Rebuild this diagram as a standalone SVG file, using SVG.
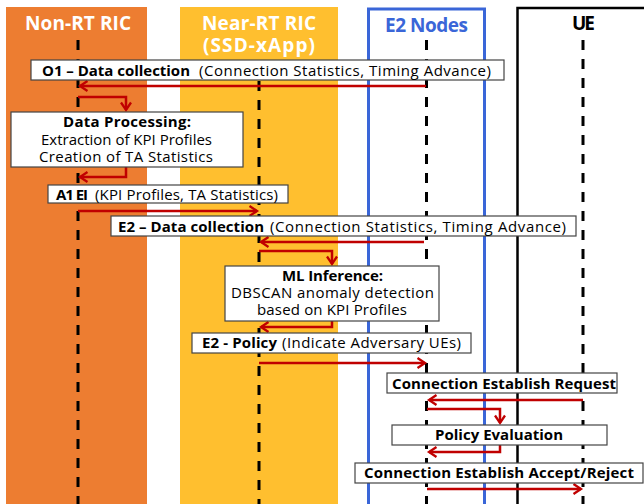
<svg xmlns="http://www.w3.org/2000/svg" width="644" height="504" viewBox="0 0 644 504">
  <style>
    text { font-family: "Open Sans", "Liberation Sans", sans-serif; }
    .hdr { font-size: 19px; font-weight: 700; }
    .lbl { font-size: 15px; fill: #000; }
    .b { font-weight: 700; }
    .box { fill: #fff; stroke: #444; stroke-width: 1.2; }
    .life { stroke: #000; stroke-width: 3; stroke-dasharray: 10 9; fill: none; }
    .msg { stroke: #C00000; stroke-width: 2.5; fill: none; marker-end: url(#arr); }
  </style>
  <defs>
    <!-- open chevron arrowhead used by every message line -->
    <marker id="arr" markerWidth="12" markerHeight="12" refX="9" refY="6" orient="auto" markerUnits="userSpaceOnUse" viewBox="0 0 12 12">
      <path d="M1.5,1 L9,6 L1.5,11" fill="none" stroke="#C00000" stroke-width="2.3"/>
    </marker>
  </defs>

  <!-- swimlanes -->
  <g id="lane-nonrt">
    <rect x="6" y="7" width="141" height="497" fill="#ED7D31"/>
    <text class="hdr" x="25" y="30" fill="#fff" textLength="106">Non-RT RIC</text>
  </g>
  <g id="lane-nearrt">
    <rect x="180" y="7" width="158" height="497" fill="#FFBF2F"/>
    <text class="hdr" x="202" y="30" fill="#fff" textLength="114">Near-RT RIC</text>
    <text class="hdr" x="203" y="52" fill="#fff" textLength="112">(SSD-xApp)</text>
  </g>
  <g id="lane-e2">
    <rect x="368.5" y="9" width="116" height="500" fill="none" stroke="#3A66D8" stroke-width="3"/>
    <text class="hdr" x="385" y="32" fill="#3A66D8" textLength="83">E2 Nodes</text>
  </g>
  <g id="lane-ue">
    <rect x="517.5" y="8" width="140" height="500" fill="none" stroke="#000" stroke-width="2.5"/>
    <text class="hdr" x="572" y="30" fill="#000" textLength="23">UE</text>
  </g>

  <!-- lifelines -->
  <g id="lifelines">
    <line class="life" x1="78" y1="40" x2="78" y2="504"/>
    <line class="life" x1="259" y1="62" x2="259" y2="504"/>
    <line class="life" x1="426.5" y1="40" x2="426.5" y2="504"/>
    <line class="life" x1="583" y1="40" x2="583" y2="504"/>
  </g>

  <!-- connectors -->
  <g id="connectors">
    <path class="msg" d="M426,86 H80"/>
    <path class="msg" d="M78,97 H126 V110"/>
    <path class="msg" d="M126,167 V177 H80"/>
    <path class="msg" d="M78,211 H257"/>
    <path class="msg" d="M424,242 H261"/>
    <path class="msg" d="M259,251 H332 V264"/>
    <path class="msg" d="M332,321 V327 H261"/>
    <path class="msg" d="M259,363 H425"/>
    <path class="msg" d="M583,400 H429"/>
    <path class="msg" d="M427,409 H500 V423"/>
    <path class="msg" d="M500,445 V452 H429"/>
    <path class="msg" d="M427,489 H581"/>
  </g>

  <!-- message labels and activity boxes -->
  <g id="o1-data">
    <rect class="box" x="31" y="60" width="473" height="20"/>
    <text class="lbl" y="76"><tspan class="b" x="42" textLength="148">O1 – Data collection</tspan><tspan x="199" textLength="292">(Connection Statistics, Timing Advance)</tspan></text>
  </g>
  <g id="data-processing">
    <rect class="box" x="11" y="112" width="232" height="55"/>
    <text class="lbl b" x="63" y="127" textLength="128">Data Processing:</text>
    <text class="lbl" x="41" y="145" textLength="171">Extraction of KPI Profiles</text>
    <text class="lbl" x="39" y="162" textLength="174">Creation of TA Statistics</text>
  </g>
  <g id="a1-ei">
    <rect class="box" x="48" y="185" width="240" height="18"/>
    <text class="lbl" y="200"><tspan class="b" x="56" textLength="32">A1 EI</tspan><tspan x="95" textLength="183">(KPI Profiles, TA Statistics)</tspan></text>
  </g>
  <g id="e2-data">
    <rect class="box" x="111" y="216" width="465" height="20"/>
    <text class="lbl" y="232"><tspan class="b" x="118" textLength="146">E2 – Data collection</tspan><tspan x="270" textLength="296">(Connection Statistics, Timing Advance)</tspan></text>
  </g>
  <g id="ml-inference">
    <rect class="box" x="225" y="266" width="214" height="55"/>
    <text class="lbl b" x="282" y="281" textLength="101">ML Inference:</text>
    <text class="lbl" x="231" y="298" textLength="203">DBSCAN anomaly detection</text>
    <text class="lbl" x="257" y="315" textLength="150">based on KPI Profiles</text>
  </g>
  <g id="e2-policy">
    <rect class="box" x="192" y="333" width="279" height="20"/>
    <text class="lbl" y="348"><tspan class="b" x="202" textLength="75">E2 - Policy</tspan><tspan x="282" textLength="179">(Indicate Adversary UEs)</tspan></text>
  </g>
  <g id="conn-request">
    <rect class="box" x="387" y="373" width="230" height="20"/>
    <text class="lbl b" x="392" y="389" textLength="224">Connection Establish Request</text>
  </g>
  <g id="policy-eval">
    <rect class="box" x="392" y="425" width="215" height="20"/>
    <text class="lbl b" x="435" y="440" textLength="128">Policy Evaluation</text>
  </g>
  <g id="conn-accept">
    <rect class="box" x="355" y="463" width="288" height="20"/>
    <text class="lbl b" x="364" y="478" textLength="270">Connection Establish Accept/Reject</text>
  </g>
</svg>
